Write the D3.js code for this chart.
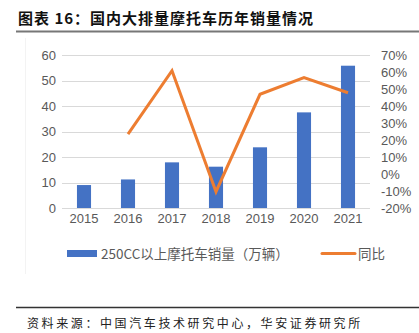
<!DOCTYPE html>
<html>
<head>
<meta charset="utf-8">
<script src="https://cdn.jsdelivr.net/npm/d3@7"></script>
<style>
  body { margin: 0; background: #fff; }
  text { font-family: "Noto Sans CJK SC", "Liberation Sans", sans-serif; }
</style>
</head>
<body>
<svg id="chart" width="419" height="333"></svg>
<script>
const years = ['2015', '2016', '2017', '2018', '2019', '2020', '2021'];
const sales = [9.0, 11.2, 17.9, 16.2, 23.8, 37.5, 55.8];   // 万辆
const yoy = [null, 23.4, 60.8, -10.4, 46.9, 56.7, 47.8];   // %
const left_ticks = [0, 10, 20, 30, 40, 50, 60];
const right_ticks = [-20, -10, 0, 10, 20, 30, 40, 50, 60, 70];

const svg = d3.select('#chart');

// title + rules
svg.append('text')
  .attr('x', 18).attr('y', 24)
  .style('font-size', '15px').style('font-weight', 'bold')
  .style('letter-spacing', '1px')
  .attr('fill', '#111')
  .text('图表 16：国内大排量摩托车历年销量情况');
svg.append('line').attr('x1', 16).attr('x2', 419).attr('y1', 31.5).attr('y2', 31.5)
  .attr('stroke', '#777').attr('stroke-width', 2);
svg.append('line').attr('x1', 25.5).attr('x2', 25.5).attr('y1', 38).attr('y2', 274)
  .attr('stroke', '#f3f3f3');
svg.append('line').attr('x1', 16).attr('x2', 419).attr('y1', 307.5).attr('y2', 307.5)
  .attr('stroke', '#333').attr('stroke-width', 1.5);
svg.append('text')
  .attr('x', 27).attr('y', 328)
  .style('font-size', '12px').style('letter-spacing', '2.6px')
  .attr('fill', '#222')
  .text('资料来源：中国汽车技术研究中心，华安证券研究所');

// scales
const x = d3.scaleBand().domain(years).range([62, 370]).paddingInner(0.68).paddingOuter(0.34);
const xc = d3.scaleBand().domain(years).range([62, 370]);
const yl = d3.scaleLinear().domain([0, 60]).range([208, 55]);
const yr = d3.scaleLinear().domain([-20, 70]).range([208, 55]);

// grid
svg.append('g').selectAll('line').data(left_ticks).enter().append('line')
  .attr('x1', 62).attr('x2', 370)
  .attr('y1', d => Math.round(yl(d)) + 0.5).attr('y2', d => Math.round(yl(d)) + 0.5)
  .attr('stroke', '#d9d9d9');

// axes
const axis_style = g => {
  g.select('.domain').remove();
  g.selectAll('.tick line').remove();
  g.selectAll('text').attr('fill', '#595959').style('font-size', '13px')
    .style('font-family', '"Liberation Sans", "DejaVu Sans", sans-serif');
};
svg.append('g').attr('transform', 'translate(56,0)')
  .call(d3.axisLeft(yl).tickValues(left_ticks).tickSize(0).tickPadding(0))
  .call(axis_style);
svg.append('g').attr('transform', 'translate(381,0)')
  .call(d3.axisRight(yr).tickValues(right_ticks).tickSize(0).tickPadding(0).tickFormat(d => d + '%'))
  .call(axis_style);
svg.append('g').attr('transform', 'translate(0,214)')
  .call(d3.axisBottom(xc).tickSize(0).tickPadding(0))
  .call(axis_style)
  .selectAll('text').attr('dy', '0.71em');

// bars
svg.append('g').selectAll('rect').data(sales).enter().append('rect')
  .attr('x', (d, i) => x(years[i]))
  .attr('width', x.bandwidth())
  .attr('y', d => yl(d))
  .attr('height', d => yl(0) - yl(d))
  .attr('fill', '#4472c4');

// yoy line
const line = d3.line()
  .defined(d => d[1] !== null)
  .x(d => xc(d[0]) + xc.bandwidth() / 2)
  .y(d => yr(d[1]));
svg.append('path')
  .datum(years.map((y, i) => [y, yoy[i]]))
  .attr('d', line)
  .attr('fill', 'none')
  .attr('stroke', '#ed7d31')
  .attr('stroke-width', 3)
  .attr('stroke-linejoin', 'miter');

// legend
const legend = svg.append('g');
legend.append('rect').attr('x', 67).attr('y', 250).attr('width', 30).attr('height', 7).attr('fill', '#4472c4');
legend.append('text').attr('x', 101).attr('y', 258.5)
  .style('font-size', '13.5px').attr('fill', '#595959')
  .text('250CC以上摩托车销量（万辆）');
legend.append('line').attr('x1', 322).attr('x2', 355).attr('y1', 253.5).attr('y2', 253.5)
  .attr('stroke', '#ed7d31').attr('stroke-width', 3).attr('stroke-linecap', 'round');
legend.append('text').attr('x', 358).attr('y', 258.5)
  .style('font-size', '13.5px').attr('fill', '#595959')
  .text('同比');
</script>
</body>
</html>
